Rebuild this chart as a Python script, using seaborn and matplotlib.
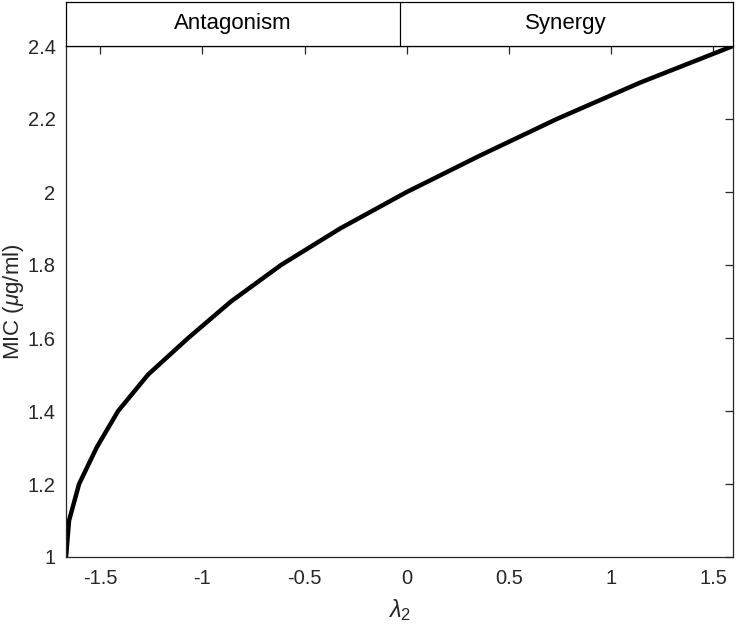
import matplotlib
matplotlib.use("Agg")
import matplotlib.pyplot as plt
import seaborn as sns
import pandas as pd

# Data
mic = [1.0, 1.1, 1.2, 1.3, 1.4, 1.5, 1.6, 1.7, 1.8, 1.9, 2.0, 2.1, 2.2, 2.3, 2.4]
lambda2 = [-1.667, -1.652, -1.603, -1.517, -1.412, -1.265, -1.069, -0.860, -0.615,
           -0.326, 0.0, 0.359, 0.734, 1.143, 1.596]
x_ticks = [-1.5, -1, -0.5, 0, 0.5, 1, 1.5]
x_tick_labels = ["-1.5", "-1", "-0.5", "0", "0.5", "1", "1.5"]
y_ticks = [1, 1.2, 1.4, 1.6, 1.8, 2, 2.2, 2.4]
y_tick_labels = ["1", "1.2", "1.4", "1.6", "1.8", "2", "2.2", "2.4"]
regions = ["Antagonism", "Synergy"]

sns.set_style("white")
plt.rcParams['font.family'] = ['Liberation Sans', 'DejaVu Sans']
plt.rcParams['mathtext.fontset'] = 'custom'
plt.rcParams['mathtext.rm'] = 'Liberation Sans'
plt.rcParams['mathtext.it'] = 'Liberation Sans:italic'

df = pd.DataFrame({"lambda2": lambda2, "MIC": mic})

W, H = 738, 628
fig = plt.figure(figsize=(W / 100, H / 100), dpi=100)
ax_w = (733 - 66) / W
ax = fig.add_axes([66 / W, 1 - 557 / H, ax_w, (557 - 46) / H])
axc = "#262626"

sns.lineplot(data=df, x="lambda2", y="MIC", ax=ax, color="black", lw=3.2,
             estimator=None, sort=False)
ax.set_xlim(-1.667, 1.596)
ax.set_ylim(1, 2.4)
ax.set_xticks(x_ticks)
ax.set_xticklabels(x_tick_labels)
ax.set_yticks(y_ticks)
ax.set_yticklabels(y_tick_labels)
ax.tick_params(direction="in", length=6, width=0.9, colors=axc, labelsize=14.5,
               top=True, right=True, labeltop=False, labelright=False)
ax.tick_params(axis="x", pad=9)
ax.tick_params(axis="y", pad=7.5)
for s in ax.spines.values():
    s.set_color(axc)
    s.set_linewidth(0.9)
ax.set_xlabel(r"$\lambda_2$", fontsize=17, color=axc, labelpad=6)
ax.set_ylabel(r"MIC ($\mu$g/ml)", fontsize=16, color=axc)
ax.yaxis.label.set_verticalalignment("center")
ax.yaxis.set_label_coords((14 - 66) / (733 - 66), 0.5)

# Header boxes
hx = fig.add_axes([66 / W, 1 - 46 / H, ax_w, (46 - 2) / H])
hx.set_xlim(0, 2)
hx.set_ylim(0, 1)
hx.set_xticks([])
hx.set_yticks([])
for s in hx.spines.values():
    s.set_color("black")
    s.set_linewidth(0.9)
hx.axvline(1, color="black", lw=0.9)
for i, r in enumerate(regions):
    hx.text(i + 0.5, 0.5, r, ha="center", va="center", fontsize=16, color="black")

fig.savefig("out.png", dpi=100)
